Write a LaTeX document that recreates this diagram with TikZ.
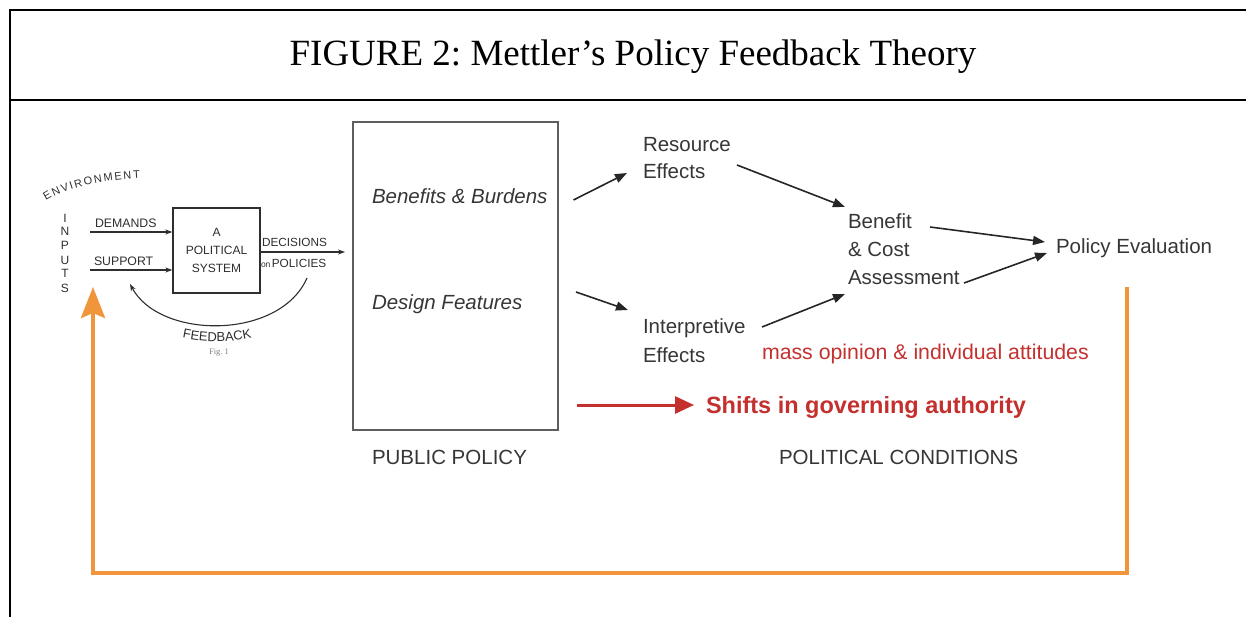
\documentclass[tikz,border=0pt]{standalone}
\usepackage{fontspec}
\setmainfont{Liberation Serif}
\setsansfont{Liberation Sans}
\newfontfamily\handfont{Liberation Sans}
\usetikzlibrary{arrows.meta,decorations.text,calc}
\definecolor{ink}{HTML}{363636}
\definecolor{boxgray}{HTML}{5E5E5E}
\definecolor{sketch}{HTML}{2E2E2E}
\definecolor{redc}{HTML}{C3302E}
\definecolor{orangec}{HTML}{F0953A}
\frenchspacing
\begin{document}
\begin{tikzpicture}[x=1pt,y=-1pt,
  txt/.style={inner sep=0pt, outer sep=0pt, text=ink, align=left,
    font=\sffamily\fontsize{20.5}{27.5}\selectfont},
  hand/.style={inner sep=0pt, outer sep=0pt, text=sketch,
    font=\handfont\fontsize{12.3}{14}\selectfont},
  blk/.style={draw=black!85, line width=1.6pt,
    -{Triangle[length=12pt,width=9pt]}},
  thinarrow/.style={draw=sketch, line width=1.1pt,
    -{Stealth[length=7pt,width=5pt]}},
  redarrow/.style={draw=redc, line width=3pt,
    -{Triangle[length=19pt,width=17pt]}},
  orangearrow/.style={draw=orangec, line width=4pt, line join=miter,
    -{Stealth[length=31pt,width=24pt,inset=5pt]}}
]
\useasboundingbox (0,0) rectangle (1246,617);

% outer frame and title band
\draw[line width=1.6pt] (1246,10) -- (10,10) -- (10,617);
\draw[line width=1.6pt] (10,100) -- (1246,100);
\node[inner sep=0pt, anchor=base] (title) at (633,66)
  {\fontsize{37}{40}\selectfont FIGURE 2: Mettler’s Policy Feedback Theory};

% ---- Easton's political system sketch ----
\node[draw=sketch, line width=1.3pt, minimum width=87pt, minimum height=85pt,
  inner sep=0pt, align=center, text=sketch,
  font=\handfont\fontsize{12}{18}\selectfont] (ps) at (216.5,250.5)
  {A\\POLITICAL\\SYSTEM};
\node[hand, anchor=base west] (dem) at (95,228) {DEMANDS};
\node[hand, anchor=base west] (sup) at (94,266) {SUPPORT};
\node[hand, anchor=base west, font=\handfont\fontsize{11.8}{14}\selectfont]
  (dec) at (262,247) {DECISIONS};
\node[hand, anchor=base west, font=\handfont\fontsize{11.8}{14}\selectfont]
  (pol) at (261,268) {{\fontsize{8.5}{9}\selectfont on\,}POLICIES};
\node[hand, align=center, anchor=base, font=\handfont\fontsize{12}{14}\selectfont]
  (inp) at (65,292) {I\\N\\P\\U\\T\\S};
\node[inner sep=0pt, text=gray, font=\fontsize{8.5}{9}\selectfont] (fig) at (219,353)
  {Fig. 1};

\coordinate (dem-in) at (90,232);
\coordinate (sup-in) at (90,270);
\coordinate (dec-out) at (345,252);
\draw[thinarrow] (dem-in) -- (ps.west |- dem-in);
\draw[thinarrow] (sup-in) -- (ps.west |- sup-in);
\draw[thinarrow] (ps.east |- dec-out) -- (dec-out);

% feedback loop back to the inputs
\coordinate (fb-start) at (307,278);
\coordinate (fb-end) at (130,284);
\draw[thinarrow] (fb-start) .. controls (280,340) and (160,340) .. (fb-end);

% curved lettering
\path[decorate, decoration={text along path, text align={fit to path},
  text={|\handfont\fontsize{11}{11}\selectfont\color{sketch}|ENVIRONMENT}}]
  (46,201) .. controls (66,188) and (100,180) .. (140,178);
\path[decorate, decoration={text along path, text align=center,
  text={|\handfont\fontsize{13}{13}\selectfont\color{sketch}|FEEDBACK}}]
  (172,335) .. controls (200,343) and (235,344) .. (262,335);

% ---- Public policy box ----
\node[draw=boxgray, line width=1.4pt, minimum width=205pt, minimum height=308pt,
  inner sep=0pt, outer sep=0pt] (policy) at (455.5,276) {};
\node[txt, anchor=base west, font=\sffamily\itshape\fontsize{20.5}{27.5}\selectfont]
  (bb) at (372,204) {Benefits \& Burdens};
\node[txt, anchor=base west, font=\sffamily\itshape\fontsize{20.5}{27.5}\selectfont]
  (df) at (372,309) {Design Features};
\node[txt, anchor=base west] (pp) at (372,464) {PUBLIC POLICY};

% ---- Political conditions (multi-line nodes sit on their last baseline) ----
\node[txt, anchor=base west] (re) at (643,179) {Resource\\Effects};
\node[txt, anchor=base west, font=\sffamily\fontsize{20.5}{29}\selectfont]
  (ie) at (643,362) {Interpretive\\Effects};
\node[txt, anchor=base west] (bca) at (848,284) {Benefit\\\& Cost\\Assessment};
\node[txt, anchor=base west] (pe) at (1056,254) {Policy Evaluation};
\node[txt, anchor=base west, text=redc, font=\sffamily\fontsize{21.3}{27}\selectfont]
  (mo) at (762,359) {mass opinion \& individual attitudes};
\node[txt, anchor=base west, text=redc,
  font=\sffamily\bfseries\fontsize{23.5}{27}\selectfont] (sg) at (706,413)
  {Shifts in governing authority};
\node[txt, anchor=base west] (pc) at (779,464) {POLITICAL CONDITIONS};

% ---- connectors ----
\draw[blk] ([shift={(26,-4)}]bb.base east) -- ([shift={(-16,-6)}]re.base west);
\draw[blk] ([shift={(204,-17)}]df.base west) -- ([shift={(-15,-52)}]ie.base west);
\draw[blk] ([shift={(94,-14)}]re.base west) -- ([shift={(-3,-77)}]bca.base west);
\draw[blk] ([shift={(119,-35)}]ie.base west) -- ([shift={(-3,10)}]bca.base west);
\draw[blk] ([shift={(82,-57)}]bca.base west) -- ([shift={(-11,-12)}]pe.base west);
\draw[blk] ([shift={(116,-1)}]bca.base west) -- ([shift={(-9,-1)}]pe.base west);
\draw[redarrow] ([shift={(-129,-8)}]sg.base west) -- ([shift={(-12,-8)}]sg.base west);

\coordinate (eval-out) at (1127,287);
\coordinate (inputs-in) at (93,287);
\draw[orangearrow] (eval-out) -- (1127,573) -- (93,573) -- (inputs-in);
\end{tikzpicture}
\end{document}
